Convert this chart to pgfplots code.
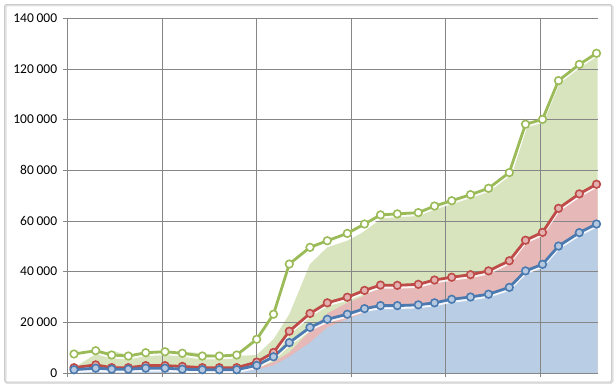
\documentclass[border=0pt]{standalone}
\usepackage{pgfplots}
\usepackage{pgfplotstable}
\pgfplotsset{compat=1.18}
\usepackage{fontspec}
\setmainfont{Carlito}
\definecolor{gl}{HTML}{9BBB59}
\definecolor{rl}{HTML}{BE4B48}
\definecolor{bl}{HTML}{4A7AB0}
\definecolor{ga}{HTML}{D7E4BD}
\definecolor{ra}{HTML}{E6B9B8}
\definecolor{ba}{HTML}{B9CDE5}
\definecolor{rf}{HTML}{E3B1B0}
\definecolor{bf}{HTML}{B6C9E0}
\definecolor{gridc}{HTML}{868686}
\newcommand\ts{\hspace{2.8pt}}
\pgfplotstableread{
x g r b
74 7500 2100 1300
95.7 8800 3200 1900
111.7 7100 2100 1500
128.3 6700 2100 1500
145.7 8000 2900 1900
165 8400 2900 1900
182.3 7800 2600 1500
202.3 6700 2100 1300
219.3 6700 2100 1300
236.7 7100 2100 1300
256.7 13300 4300 3000
273.5 23200 8100 6400
289.3 43000 16500 12000
310 49600 23500 18000
327.3 52200 27700 21200
347.3 55100 29900 23200
364.5 58800 32600 25400
380.5 62400 34700 26600
397.3 62800 34600 26600
418.3 63300 35000 26900
434.5 65900 36700 27700
451.7 68000 37800 29100
470.5 70400 38800 30000
488.5 72900 40300 31100
509.3 79100 44300 33800
525.5 98200 52400 40300
542.5 100100 55500 42900
558.5 115400 65000 50100
579.3 121800 70700 55400
596.5 126200 74500 58800
}\linedata
\pgfplotstableread{
x g r b
74 2000 1500 1000
95.7 7500 2100 1300
111.7 8800 3200 1900
128.3 7100 2100 1500
145.7 6700 2100 1500
165 8000 2900 1900
182.3 8400 2900 1900
202.3 7800 2600 1500
219.3 6700 2100 1300
236.7 6700 2100 1300
256.7 7100 2100 1300
273.5 13300 4300 3000
289.3 23200 8100 6400
310 43000 16500 12000
327.3 49600 23500 18000
347.3 52200 27700 21200
361.1 55100 29900 23200
374.1 58800 32600 25400
388.1 62400 34700 26600
404.7 62800 34600 26600
423.2 63300 35000 26900
438.8 65900 36700 27700
455.5 68000 37800 29100
474.1 70400 38800 30000
492.7 72900 40300 31100
512.5 79100 44300 33800
528 98200 52400 40300
544.1 100100 55500 42900
560.2 115400 65000 50100
580.2 121800 70700 55400
597.7 126200 74500 58800
}\areadata
\begin{document}
\begin{tikzpicture}
\path (0pt,0pt) rectangle (616pt,387pt);
\draw[draw=black!12, line width=2pt, rounded corners=1.5pt] (5.5pt,4pt) rectangle (612.5pt,381.5pt);
\draw[draw=black!20, line width=0.9pt, rounded corners=1.5pt] (4.5pt,5pt) rectangle (611.5pt,382.5pt);
\begin{axis}[
  at={(67.7pt,14pt)}, anchor=south west, scale only axis,
  width=530.3pt, height=354.7pt,
  xmin=67.7, xmax=598, ymin=0, ymax=140000,
  xtick={67.7,162.2,256.7,351.2,445.7,540.2}, xticklabels={},
  ytick={0,20000,40000,60000,80000,100000,120000,140000},
  yticklabels={0,20\ts000,40\ts000,60\ts000,80\ts000,100\ts000,120\ts000,140\ts000},
  scaled y ticks=false,
  axis lines*=left,
  grid=major, grid style={draw=gridc, line width=0.8pt},
  axis line style={draw=gridc, line width=0.8pt},
  tick style={draw=gridc, line width=0.8pt},
  tick align=outside, major tick length=4.5pt,
  yticklabel style={font=\fontsize{13.5}{15}\selectfont, text=black, xshift=-2.5pt},
  set layers=standard,
  clip=false,
]
\addplot[on layer=axis background, draw=none, fill=ga] table[x=x,y=g] {\areadata} \closedcycle;
\addplot[on layer=axis background, draw=none, fill=ra] table[x=x,y=r] {\areadata} \closedcycle;
\addplot[on layer=axis background, draw=none, fill=ba] table[x=x,y=b] {\areadata} \closedcycle;

\addplot[white, opacity=0.85, line width=2.5pt, yshift=-2.2pt, no marks, forget plot] table[x=x,y=g] {\linedata};
\addplot[gl, line width=2.8pt, mark=*, mark size=3.8pt, mark options={fill=white, draw=gl, line width=1.6pt}] table[x=x,y=g] {\linedata};
\addplot[white, opacity=0.85, line width=2.5pt, yshift=-2.2pt, no marks, forget plot] table[x=x,y=r] {\linedata};
\addplot[rl, line width=2.8pt, mark=*, mark size=3.8pt, mark options={fill=rf, draw=rl, line width=1.6pt}] table[x=x,y=r] {\linedata};
\addplot[white, opacity=0.85, line width=2.5pt, yshift=-2.2pt, no marks, forget plot] table[x=x,y=b] {\linedata};
\addplot[bl, line width=2.8pt, mark=*, mark size=3.8pt, mark options={fill=bf, draw=bl, line width=1.6pt}] table[x=x,y=b] {\linedata};
\end{axis}
\end{tikzpicture}
\end{document}
